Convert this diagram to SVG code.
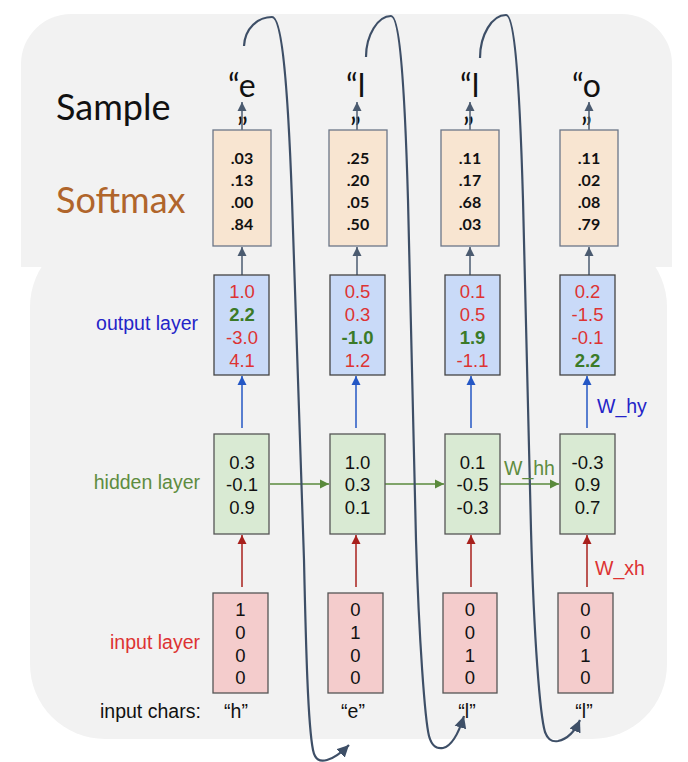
<svg xmlns="http://www.w3.org/2000/svg" width="688" height="762" viewBox="0 0 688 762">
  <defs>
    <style>
      .panel { fill: #f2f2f2; }
      .soft { fill: #f8e5d1; stroke: #6b7687; stroke-width: 1.3; }
      .out { fill: #c9daf8; stroke: #444; stroke-width: 1.3; }
      .hid { fill: #d9ead3; stroke: #555; stroke-width: 1.3; }
      .inp { fill: #f4cccc; stroke: #555; stroke-width: 1.3; }
      .cal { font-family: Lato, "Liberation Sans", sans-serif; }
      .ari { font-family: "Liberation Sans", Arial, sans-serif; }
      .sm { font-size: 16px; font-weight: bold; fill: #111; text-anchor: middle; }
      .num { font-size: 18.5px; text-anchor: middle; }
      .r { fill: #dd3333; }
      .g { fill: #3b7a28; font-weight: bold; }
      .k { fill: #111; }
      .lbl { font-size: 19.5px; }
      .big { font-size: 32px; fill: #111; }
      .q { font-size: 30px; fill: #111; }
      .slate { stroke: #4b5b70; stroke-width: 1.5; fill: none; }
      .blue { stroke: #2457c5; stroke-width: 1.5; fill: none; }
      .red { stroke: #a8201c; stroke-width: 1.5; fill: none; }
      .green { stroke: #5a8a3c; stroke-width: 1.5; fill: none; }
      .arc { stroke: #3e4f67; stroke-width: 2.2; fill: none; }
    </style>
    <marker id="mSlate" markerUnits="userSpaceOnUse" markerWidth="10" markerHeight="10" refX="9" refY="5" orient="auto">
      <path d="M0,0.5 L9,5 L0,9.5 Z" fill="#4b5b70"/>
    </marker>
    <marker id="mBlue" markerUnits="userSpaceOnUse" markerWidth="10" markerHeight="10" refX="9" refY="5" orient="auto">
      <path d="M0,0.5 L9,5 L0,9.5 Z" fill="#2457c5"/>
    </marker>
    <marker id="mRed" markerUnits="userSpaceOnUse" markerWidth="10" markerHeight="10" refX="9" refY="5" orient="auto">
      <path d="M0,0.5 L9,5 L0,9.5 Z" fill="#a8201c"/>
    </marker>
    <marker id="mGreen" markerUnits="userSpaceOnUse" markerWidth="10" markerHeight="10" refX="9" refY="5" orient="auto">
      <path d="M0,0.5 L9,5 L0,9.5 Z" fill="#5a8a3c"/>
    </marker>
    <marker id="mArc" markerUnits="userSpaceOnUse" markerWidth="14" markerHeight="14" refX="12" refY="7" orient="auto">
      <path d="M0,1 L12,7 L0,13 Z" fill="#3e4f67"/>
    </marker>
  </defs>

  <!-- background panels -->
  <rect class="panel" x="30" y="232" width="637" height="507" rx="75" ry="75"/>
  <path class="panel" d="M21,267 L21,64 A50,50 0 0 1 71,14 L622,14 A50,50 0 0 1 672,64 L672,267 Z"/>

  <!-- row labels -->
  <g id="labels">
    <text class="cal big" x="56" y="120" style="font-size:36px">Sample</text>
    <text class="cal" x="56" y="213" style="font-size:36px" fill="#b0652b">Softmax</text>
    <text class="ari lbl" x="198" y="330" text-anchor="end" fill="#2424c8">output layer</text>
    <text class="ari lbl" x="200" y="489" text-anchor="end" fill="#5e8c40">hidden layer</text>
    <text class="ari lbl" x="200" y="649" text-anchor="end" fill="#dd3333">input layer</text>
    <text class="ari lbl" x="100" y="718" fill="#111">input chars:</text>
  </g>

  <!-- sample letters (closing quote wraps below) -->
  <g id="sample">
    <text class="cal big" x="228" y="97">“e</text>
    <text class="cal q" x="237" y="140">”</text>
    <text class="cal big" x="346" y="97">“l</text>
    <text class="cal q" x="350" y="140">”</text>
    <text class="cal big" x="460" y="97">“l</text>
    <text class="cal q" x="463" y="140">”</text>
    <text class="cal big" x="572" y="97">“o</text>
    <text class="cal q" x="581" y="140">”</text>
  </g>

  <!-- connectors -->
  <g id="connectors">
    <!-- softmax -> sample -->
    <line class="slate" x1="242" y1="130" x2="242" y2="102" marker-end="url(#mSlate)"/>
    <line class="slate" x1="357" y1="130" x2="357" y2="102" marker-end="url(#mSlate)"/>
    <line class="slate" x1="470" y1="130" x2="470" y2="102" marker-end="url(#mSlate)"/>
    <line class="slate" x1="589" y1="130" x2="589" y2="102" marker-end="url(#mSlate)"/>
    <!-- output -> softmax -->
    <line class="slate" x1="242" y1="275" x2="242" y2="247" marker-end="url(#mSlate)"/>
    <line class="slate" x1="357" y1="275" x2="357" y2="247" marker-end="url(#mSlate)"/>
    <line class="slate" x1="470" y1="275" x2="470" y2="247" marker-end="url(#mSlate)"/>
    <line class="slate" x1="589" y1="275" x2="589" y2="247" marker-end="url(#mSlate)"/>
    <!-- hidden -> output -->
    <line class="blue" x1="242" y1="428" x2="242" y2="376" marker-end="url(#mBlue)"/>
    <line class="blue" x1="356" y1="428" x2="356" y2="376" marker-end="url(#mBlue)"/>
    <line class="blue" x1="471" y1="428" x2="471" y2="376" marker-end="url(#mBlue)"/>
    <line class="blue" x1="587" y1="428" x2="587" y2="376" marker-end="url(#mBlue)"/>
    <!-- input -> hidden -->
    <line class="red" x1="242" y1="587" x2="242" y2="535" marker-end="url(#mRed)"/>
    <line class="red" x1="356" y1="587" x2="356" y2="535" marker-end="url(#mRed)"/>
    <line class="red" x1="471" y1="587" x2="471" y2="535" marker-end="url(#mRed)"/>
    <line class="red" x1="587" y1="587" x2="587" y2="535" marker-end="url(#mRed)"/>
    <!-- hidden -> hidden -->
    <line class="green" x1="270" y1="484" x2="329" y2="484" marker-end="url(#mGreen)"/>
    <line class="green" x1="385" y1="484" x2="444" y2="484" marker-end="url(#mGreen)"/>
    <line class="green" x1="500" y1="484" x2="559" y2="484" marker-end="url(#mGreen)"/>
    <!-- sample fed back as next input -->
    <path class="arc" d="M244,46 C245,28 258,17 272,17 C280,17 287,60 292,200 L304,560 C306,650 308,725 313,750 C315,760 320,762 327,760 C335,758 342,752 349,745" marker-end="url(#mArc)"/>
    <path class="arc" d="M366,57 C366,35 378,16 391,16 C398,16 404,60 408,200 L416,540 C419,640 425,720 429,736 C432,747 437,749 443,748 C452,746 459,732 464,716" marker-end="url(#mArc)"/>
    <path class="arc" d="M480,58 C480,35 492,15 506,15 C513,15 519,60 523,200 L531,530 C534,640 540,715 545,732 C548,740 552,742 558,741 C568,739 575,731 580,720" marker-end="url(#mArc)"/>
  </g>

  <!-- column 1 -->
  <g id="softmax1">
    <rect class="soft" x="213" y="130" width="58" height="116"/>
    <text class="cal sm" x="242" y="164">.03</text>
    <text class="cal sm" x="242" y="186">.13</text>
    <text class="cal sm" x="242" y="208">.00</text>
    <text class="cal sm" x="242" y="230">.84</text>
  </g>
  <g id="output1">
    <rect class="out" x="214" y="275" width="55" height="100"/>
    <text class="ari num r" x="242" y="297.5">1.0</text>
    <text class="ari num g" x="242" y="320.5">2.2</text>
    <text class="ari num r" x="242" y="343.5">-3.0</text>
    <text class="ari num r" x="242" y="366.5">4.1</text>
  </g>
  <g id="hidden1">
    <rect class="hid" x="214" y="434" width="55" height="100"/>
    <text class="ari num k" x="242" y="468.5">0.3</text>
    <text class="ari num k" x="242" y="490.5">-0.1</text>
    <text class="ari num k" x="242" y="513.5">0.9</text>
  </g>
  <g id="input1">
    <rect class="inp" x="213" y="593" width="55" height="100"/>
    <text class="ari num k" x="240.5" y="615.5">1</text>
    <text class="ari num k" x="240.5" y="638.5">0</text>
    <text class="ari num k" x="240.5" y="661.5">0</text>
    <text class="ari num k" x="240.5" y="683.5">0</text>
  </g>
  <g id="char1"><text class="ari lbl k" x="236" y="718" text-anchor="middle">“h”</text></g>

  <!-- column 2 -->
  <g id="softmax2">
    <rect class="soft" x="329" y="130" width="58" height="116"/>
    <text class="cal sm" x="358" y="164">.25</text>
    <text class="cal sm" x="358" y="186">.20</text>
    <text class="cal sm" x="358" y="208">.05</text>
    <text class="cal sm" x="358" y="230">.50</text>
  </g>
  <g id="output2">
    <rect class="out" x="330" y="275" width="55" height="100"/>
    <text class="ari num r" x="357.5" y="297.5">0.5</text>
    <text class="ari num r" x="357.5" y="320.5">0.3</text>
    <text class="ari num g" x="357.5" y="343.5">-1.0</text>
    <text class="ari num r" x="357.5" y="366.5">1.2</text>
  </g>
  <g id="hidden2">
    <rect class="hid" x="330" y="434" width="55" height="100"/>
    <text class="ari num k" x="357.5" y="468.5">1.0</text>
    <text class="ari num k" x="357.5" y="490.5">0.3</text>
    <text class="ari num k" x="357.5" y="513.5">0.1</text>
  </g>
  <g id="input2">
    <rect class="inp" x="328" y="593" width="55" height="100"/>
    <text class="ari num k" x="355.5" y="615.5">0</text>
    <text class="ari num k" x="355.5" y="638.5">1</text>
    <text class="ari num k" x="355.5" y="661.5">0</text>
    <text class="ari num k" x="355.5" y="683.5">0</text>
  </g>
  <g id="char2"><text class="ari lbl k" x="353" y="718" text-anchor="middle">“e”</text></g>

  <!-- column 3 -->
  <g id="softmax3">
    <rect class="soft" x="441" y="130" width="58" height="116"/>
    <text class="cal sm" x="470" y="164">.11</text>
    <text class="cal sm" x="470" y="186">.17</text>
    <text class="cal sm" x="470" y="208">.68</text>
    <text class="cal sm" x="470" y="230">.03</text>
  </g>
  <g id="output3">
    <rect class="out" x="445" y="275" width="55" height="100"/>
    <text class="ari num r" x="472.5" y="297.5">0.1</text>
    <text class="ari num r" x="472.5" y="320.5">0.5</text>
    <text class="ari num g" x="472.5" y="343.5">1.9</text>
    <text class="ari num r" x="472.5" y="366.5">-1.1</text>
  </g>
  <g id="hidden3">
    <rect class="hid" x="445" y="434" width="55" height="100"/>
    <text class="ari num k" x="472.5" y="468.5">0.1</text>
    <text class="ari num k" x="472.5" y="490.5">-0.5</text>
    <text class="ari num k" x="472.5" y="513.5">-0.3</text>
  </g>
  <g id="input3">
    <rect class="inp" x="443" y="593" width="54" height="100"/>
    <text class="ari num k" x="470" y="615.5">0</text>
    <text class="ari num k" x="470" y="638.5">0</text>
    <text class="ari num k" x="470" y="661.5">1</text>
    <text class="ari num k" x="470" y="683.5">0</text>
  </g>
  <g id="char3"><text class="ari lbl k" x="467" y="718" text-anchor="middle">“l”</text></g>

  <!-- column 4 -->
  <g id="softmax4">
    <rect class="soft" x="560" y="130" width="58" height="116"/>
    <text class="cal sm" x="589" y="164">.11</text>
    <text class="cal sm" x="589" y="186">.02</text>
    <text class="cal sm" x="589" y="208">.08</text>
    <text class="cal sm" x="589" y="230">.79</text>
  </g>
  <g id="output4">
    <rect class="out" x="560" y="275" width="55" height="100"/>
    <text class="ari num r" x="587.5" y="297.5">0.2</text>
    <text class="ari num r" x="587.5" y="320.5">-1.5</text>
    <text class="ari num r" x="587.5" y="343.5">-0.1</text>
    <text class="ari num g" x="587.5" y="366.5">2.2</text>
  </g>
  <g id="hidden4">
    <rect class="hid" x="560" y="434" width="55" height="100"/>
    <text class="ari num k" x="587.5" y="468.5">-0.3</text>
    <text class="ari num k" x="587.5" y="490.5">0.9</text>
    <text class="ari num k" x="587.5" y="513.5">0.7</text>
  </g>
  <g id="input4">
    <rect class="inp" x="558" y="593" width="55" height="100"/>
    <text class="ari num k" x="585.5" y="615.5">0</text>
    <text class="ari num k" x="585.5" y="638.5">0</text>
    <text class="ari num k" x="585.5" y="661.5">1</text>
    <text class="ari num k" x="585.5" y="683.5">0</text>
  </g>
  <g id="char4"><text class="ari lbl k" x="584" y="718" text-anchor="middle">“l”</text></g>

  <!-- weight labels -->
  <g id="weights">
    <text class="ari lbl" x="597" y="413" fill="#2424c8">W_hy</text>
    <text class="ari lbl" x="504" y="475" fill="#5e8c40">W_hh</text>
    <text class="ari lbl" x="595" y="575" fill="#dd3333">W_xh</text>
  </g>
</svg>
